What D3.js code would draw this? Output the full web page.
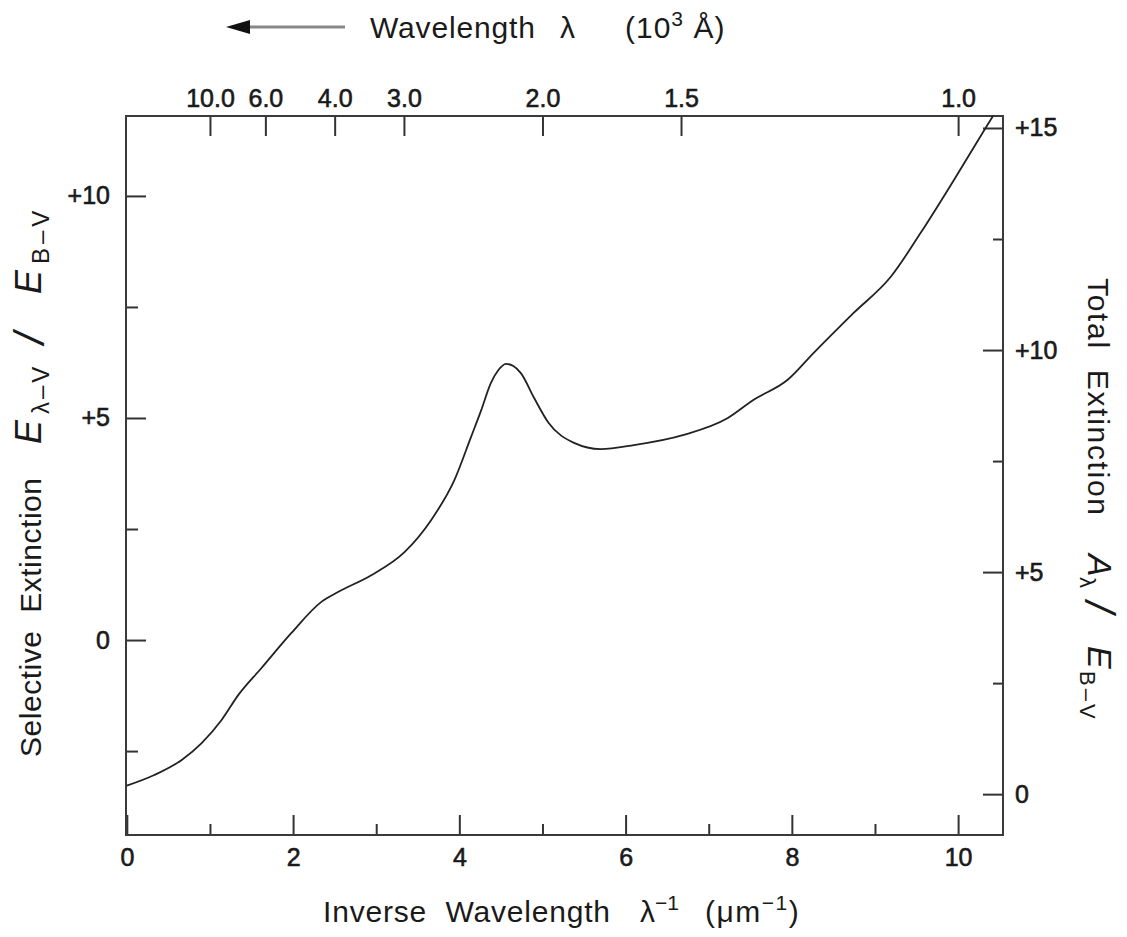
<!DOCTYPE html>
<html>
<head>
<meta charset="utf-8">
<script src="https://cdn.jsdelivr.net/npm/d3@7"></script>
<style>
  body { margin: 0; background: #fff; }
  text { font-family: "Liberation Sans", Arial, sans-serif; fill: #1a1a1a; }
</style>
</head>
<body>
<script>
let width = 1127, height = 937;

// curve: inverse wavelength (um^-1) vs E(lambda-V)/E(B-V)
let invWave = [0, 0.33, 0.66, 0.90, 1.14, 1.34, 1.62, 1.98, 2.34, 2.54, 2.94, 3.34, 3.66, 3.94,
  4.14, 4.26, 4.38, 4.47, 4.56, 4.65, 4.74, 4.90, 5.07, 5.38, 5.70, 6.10, 6.70, 7.23, 7.54, 7.95, 8.26,
  8.74, 9.19, 9.55, 9.95, 10.39, 10.42];
let selExt = [-3.28, -3.04, -2.70, -2.32, -1.80, -1.24, -0.63, 0.16, 0.86, 1.08, 1.46, 1.98, 2.70, 3.60,
  4.57, 5.16, 5.79, 6.08, 6.22, 6.17, 6.01, 5.45, 4.90, 4.44, 4.30, 4.39, 4.62, 5.00, 5.41, 5.86, 6.46,
  7.36, 8.18, 9.17, 10.36, 11.71, 11.80];

let bottomMajor = [0, 2, 4, 6, 8, 10];
let bottomMinor = [1, 3, 5, 7, 9];
let topLambda = [10.0, 6.0, 4.0, 3.0, 2.0, 1.5, 1.0];   // 10^3 Angstrom
let leftMajor = [0, 5, 10];
let leftMinor = [-2.5, 2.5, 7.5];
let rightMajor = [0, 5, 10, 15];
let rightMinor = [2.5, 7.5, 12.5];

let margin = {top: 116, right: 124, bottom: 102, left: 126};
let x0 = margin.left, x1 = width - margin.right;
let y0 = margin.top, y1 = height - margin.bottom;

let svg = d3.select("body").append("svg")
    .attr("width", width)
    .attr("height", height);

let x = d3.scaleLinear().domain([-0.01, 10.54]).range([x0, x1]);
let y = d3.scaleLinear().domain([-4.39, 11.80]).range([y1, y0]);
let yR = d3.scaleLinear().domain([-0.92, 15.27]).range([y1, y0]);

function plus(d) { return d > 0 ? "+" + d : "" + d; }

function styleAxis(g) {
  g.select(".domain").remove();
  g.selectAll("line").attr("stroke", "#333").attr("stroke-width", 2);
  g.selectAll("text").attr("font-size", 25).attr("fill", "#1a1a1a")
    .attr("stroke", "#1a1a1a").attr("stroke-width", 0.6)
    .attr("font-family", "Liberation Sans, Arial, sans-serif");
}

// bottom
svg.append("g").attr("transform", `translate(0,${y1})`)
  .call(d3.axisBottom(x).tickValues(bottomMajor).tickSize(-20).tickPadding(13).tickFormat(d3.format("d")))
  .call(styleAxis);
svg.append("g").attr("transform", `translate(0,${y1})`)
  .call(d3.axisBottom(x).tickValues(bottomMinor).tickSize(-11).tickFormat(""))
  .call(styleAxis);

// top (wavelength)
svg.append("g").attr("transform", `translate(0,${y0})`)
  .call(d3.axisTop(x).tickValues(topLambda.map(l => 10 / l)).tickSize(-20).tickPadding(9)
    .tickFormat((d, i) => topLambda[i].toFixed(1)))
  .call(styleAxis);

// left
svg.append("g").attr("transform", `translate(${x0},0)`)
  .call(d3.axisLeft(y).tickValues(leftMajor).tickSize(-20).tickPadding(16).tickFormat(plus))
  .call(styleAxis);
svg.append("g").attr("transform", `translate(${x0},0)`)
  .call(d3.axisLeft(y).tickValues(leftMinor).tickSize(-12).tickFormat(""))
  .call(styleAxis);

// right
svg.append("g").attr("transform", `translate(${x1},0)`)
  .call(d3.axisRight(yR).tickValues(rightMajor).tickSize(-20).tickPadding(12).tickFormat(plus))
  .call(styleAxis);
svg.append("g").attr("transform", `translate(${x1},0)`)
  .call(d3.axisRight(yR).tickValues(rightMinor).tickSize(-10).tickFormat(""))
  .call(styleAxis);

// frame
svg.append("rect")
  .attr("x", x0).attr("y", y0)
  .attr("width", x1 - x0).attr("height", y1 - y0)
  .attr("fill", "none").attr("stroke", "#3a3a3a").attr("stroke-width", 2);

// curve
let line = d3.line()
  .x((d, i) => x(invWave[i]))
  .y(d => y(d))
  .curve(d3.curveMonotoneX);

svg.append("path")
  .datum(selExt)
  .attr("d", line)
  .attr("fill", "none")
  .attr("stroke", "#222")
  .attr("stroke-width", 1.8);

// ---- titles ----
let serif = "Liberation Serif, DejaVu Serif, serif";

function word(g, txt, px, py, size, len) {
  let t = g.append("text").attr("x", px).attr("y", py)
    .attr("font-size", size).style("white-space", "pre").text(txt);
  if (len) t.attr("textLength", len).attr("lengthAdjust", "spacing");
  return t;
}

// bottom title
let bt = svg.append("g");
word(bt, "Inverse  Wavelength", 323, 922, 30, 287);
let b2 = word(bt, "λ", 640, 922, 30);
b2.append("tspan").attr("font-size", 21).attr("dy", -12).text("−1");
let b3 = word(bt, "(μm", 705, 922, 30).attr("letter-spacing", 1.5);
b3.append("tspan").attr("font-size", 21).attr("dy", -12).text("−1");
b3.append("tspan").attr("dy", 12).text(")");

// top title with arrow
svg.append("line")
  .attr("x1", 244).attr("x2", 345).attr("y1", 27).attr("y2", 27)
  .attr("stroke", "#888").attr("stroke-width", 3);
svg.append("path")
  .attr("d", "M226,27 L250,20 L250,34 Z")
  .attr("fill", "#111");
let tg = svg.append("g");
word(tg, "Wavelength", 370, 38, 30, 165);
word(tg, "λ", 560, 38, 30);
let t3 = word(tg, "(10", 625, 38, 30).attr("letter-spacing", 1);
t3.append("tspan").attr("font-size", 21).attr("dy", -12).text("3");
t3.append("tspan").attr("dy", 12).text(" Å)");

// left title, reads bottom to top
let lg = svg.append("g").attr("transform", "translate(41,0) rotate(-90)");
word(lg, "Selective  Extinction", -757, 0, 30, 279);
word(lg, "E", -444, 0, 36).attr("font-family", serif).attr("font-style", "italic");
word(lg, "λ–V", -414, 8, 24).attr("letter-spacing", 3);
word(lg, "/", -344, 3, 42).attr("font-family", serif).attr("font-style", "italic");
word(lg, "E", -294, 0, 36).attr("font-family", serif).attr("font-style", "italic");
word(lg, "B–V", -264, 8, 24).attr("letter-spacing", 4);

// right title, reads top to bottom
let rg = svg.append("g").attr("transform", "translate(1088,0) rotate(90)");
word(rg, "Total  Extinction", 278, 0, 30, 237);
word(rg, "A", 554, 0, 34).attr("font-family", serif).attr("font-style", "italic");
word(rg, "λ", 577, 8, 22);
word(rg, "/", 601, 3, 42).attr("font-family", serif).attr("font-style", "italic");
word(rg, "E", 646, 0, 34).attr("font-family", serif).attr("font-style", "italic");
word(rg, "B–V", 671, 8, 22).attr("letter-spacing", 3);
</script>
</body>
</html>
